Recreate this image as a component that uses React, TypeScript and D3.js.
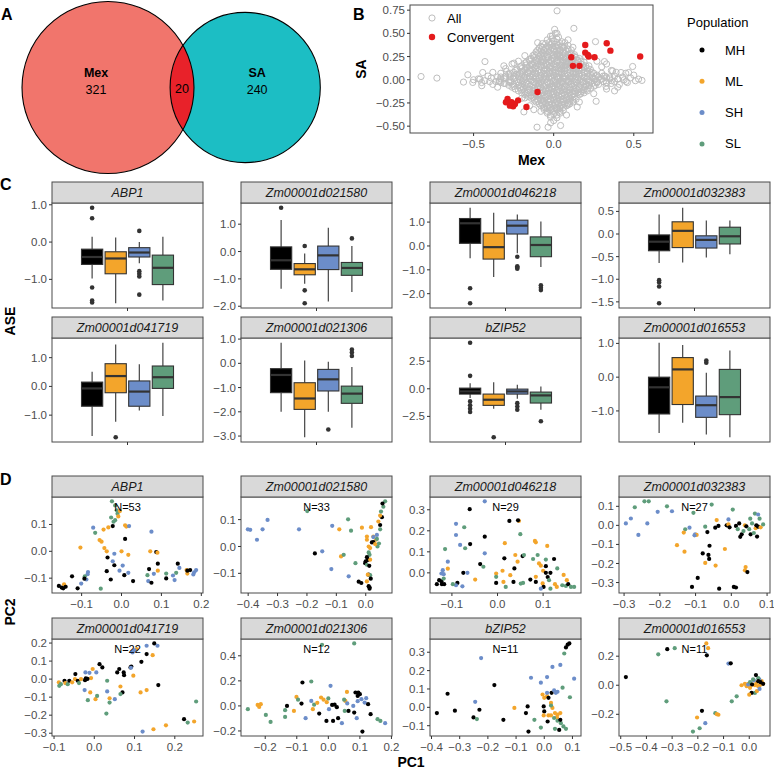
import React from 'react';
import * as d3 from 'd3';

const FONT = "'Liberation Sans', Arial, Helvetica, sans-serif";

// ---------- Panel A: Venn ----------
const vennNames = ['Mex', 'SA'];
const vennOnly = [321, 240];
const vennShared = 20;
const vennColors = ['#F1756C', '#1CBEC4'];
const vennSharedColor = '#E8222A';

// ---------- Panel B: Mex vs SA ----------
const convergentPoints: [number, number][] = [
  [0.197, 0.375], [0.11, 0.243], [0.12, 0.15], [0.161, 0.15], [0.197, 0.293],
  [0.213, 0.268], [0.219, 0.25], [0.255, 0.243], [0.331, 0.393], [0.354, 0.314],
  [0.54, 0.25], [-0.101, -0.132], [-0.288, -0.207], [-0.298, -0.243], [-0.273, -0.279],
  [-0.253, -0.286], [-0.242, -0.261], [-0.222, -0.222], [-0.17, -0.293], [-0.263, -0.243],
];
// flat list of (Mex, SA) pairs for all genes
const allPoints: number[] = [
  0.01, 0.5, -0.02, 0.47, 0.03, 0.46, -0.04, 0.43, 0.0, 0.42, 0.05, 0.41, -0.07, 0.39, -0.02, 0.38, 0.03, 0.37, 0.07, 0.36,
  -0.09, 0.34, -0.05, 0.34, 0.0, 0.33, 0.04, 0.32, 0.09, 0.33, -0.11, 0.3, -0.07, 0.29, -0.03, 0.3, 0.02, 0.28, 0.06, 0.29,
  0.11, 0.28, -0.13, 0.26, -0.09, 0.25, -0.04, 0.25, 0.0, 0.24, 0.04, 0.25, 0.08, 0.24, 0.13, 0.25, -0.15, 0.22, -0.11, 0.21,
  -0.07, 0.22, -0.02, 0.21, 0.02, 0.2, 0.06, 0.21, 0.1, 0.2, 0.15, 0.21, -0.18, 0.18, -0.14, 0.17, -0.1, 0.17, -0.05, 0.18,
  0.0, 0.17, 0.04, 0.16, 0.08, 0.17, 0.12, 0.16, 0.17, 0.17, -0.21, 0.14, -0.17, 0.13, -0.12, 0.13, -0.08, 0.14, -0.03, 0.13,
  0.01, 0.13, 0.05, 0.12, 0.1, 0.13, 0.14, 0.12, 0.19, 0.13, -0.24, 0.1, -0.19, 0.09, -0.15, 0.1, -0.1, 0.09, -0.06, 0.1,
  -0.01, 0.09, 0.03, 0.09, 0.07, 0.1, 0.12, 0.09, 0.16, 0.1, 0.21, 0.09, -0.28, 0.06, -0.23, 0.06, -0.18, 0.05, -0.13, 0.06,
  -0.08, 0.05, -0.04, 0.06, 0.0, 0.05, 0.05, 0.06, 0.09, 0.05, 0.14, 0.06, 0.18, 0.05, 0.23, 0.06, 0.27, 0.05,
  -0.47, 0.01, -0.43, -0.01, -0.39, 0.02, -0.36, -0.02, -0.33, 0.01, -0.3, 0.02, -0.27, -0.01, -0.24, 0.02, -0.21, 0.0,
  -0.17, 0.02, -0.14, -0.01, -0.11, 0.01, -0.07, 0.0, -0.03, 0.02, 0.01, 0.0, 0.04, 0.02, 0.08, -0.01, 0.11, 0.01, 0.15, 0.0,
  0.19, 0.02, 0.22, -0.01, 0.26, 0.01, 0.29, 0.0, 0.33, 0.02, 0.36, -0.01, 0.4, 0.01, 0.44, 0.0, 0.48, 0.02, 0.51, -0.01,
  -0.41, 0.04, -0.35, 0.03, -0.31, -0.04, -0.45, -0.03, 0.38, 0.04, 0.43, 0.03, 0.46, -0.03, 0.33, -0.03, 0.31, 0.04,
  -0.38, -0.05, 0.41, -0.05,
  -0.3, -0.04, -0.25, -0.05, -0.2, -0.04, -0.16, -0.05, -0.11, -0.04, -0.07, -0.05, -0.02, -0.04, 0.02, -0.05, 0.06, -0.04,
  0.11, -0.05, 0.15, -0.04, 0.2, -0.05, 0.24, -0.04, 0.28, -0.05,
  -0.26, -0.08, -0.21, -0.09, -0.17, -0.08, -0.12, -0.09, -0.08, -0.08, -0.03, -0.09, 0.01, -0.08, 0.05, -0.09, 0.1, -0.08,
  0.14, -0.09, 0.19, -0.08, 0.23, -0.09,
  -0.22, -0.12, -0.18, -0.13, -0.13, -0.12, -0.09, -0.13, -0.05, -0.12, 0.0, -0.13, 0.04, -0.12, 0.08, -0.13, 0.13, -0.12,
  0.17, -0.13, 0.21, -0.12,
  -0.18, -0.16, -0.14, -0.17, -0.1, -0.16, -0.06, -0.17, -0.01, -0.16, 0.03, -0.17, 0.07, -0.16, 0.11, -0.17, 0.16, -0.16,
  -0.14, -0.2, -0.1, -0.21, -0.06, -0.2, -0.02, -0.21, 0.02, -0.2, 0.06, -0.21, 0.1, -0.2, 0.14, -0.21,
  -0.11, -0.24, -0.07, -0.25, -0.03, -0.24, 0.01, -0.25, 0.05, -0.24, 0.09, -0.25, 0.12, -0.24,
  -0.08, -0.28, -0.04, -0.29, 0.0, -0.28, 0.04, -0.29, 0.08, -0.28,
  -0.06, -0.32, -0.02, -0.33, 0.02, -0.32, 0.06, -0.33, -0.04, -0.36, 0.0, -0.37, 0.04, -0.36, -0.02, -0.4, 0.02, -0.41, 0.0, -0.44,
  -0.05, 0.03, 0.03, 0.03, -0.01, -0.02, 0.06, -0.02, -0.09, 0.02, 0.12, 0.03, -0.15, 0.03, 0.17, -0.02, -0.04, 0.15, 0.06, 0.14,
  -0.02, -0.14, 0.08, -0.11, -0.1, -0.1, 0.02, 0.27, -0.01, 0.35, 0.01, -0.3, -0.07, 0.19, 0.09, 0.19, -0.12, -0.14, 0.12, -0.15,
  // in-between rows of the dense core
  -0.01, 0.44, 0.02, 0.44, -0.03, 0.4, 0.02, 0.4, 0.07, 0.4,
  -0.08, 0.36, -0.04, 0.36, 0.01, 0.36, 0.05, 0.36, 0.09, 0.37,
  -0.1, 0.32, -0.06, 0.32, -0.02, 0.32, 0.02, 0.32, 0.06, 0.32, 0.11, 0.32,
  -0.12, 0.27, -0.08, 0.27, -0.04, 0.27, 0.0, 0.27, 0.04, 0.27, 0.09, 0.27, 0.13, 0.27,
  -0.14, 0.23, -0.1, 0.23, -0.05, 0.23, -0.01, 0.23, 0.04, 0.23, 0.08, 0.23, 0.12, 0.23, 0.16, 0.23,
  -0.17, 0.19, -0.12, 0.19, -0.08, 0.19, -0.03, 0.19, 0.02, 0.19, 0.06, 0.19, 0.11, 0.19, 0.15, 0.19, 0.19, 0.19,
  -0.2, 0.15, -0.15, 0.15, -0.11, 0.15, -0.06, 0.15, -0.02, 0.15, 0.02, 0.15, 0.07, 0.15, 0.11, 0.15, 0.15, 0.15, 0.2, 0.15,
  -0.23, 0.11, -0.18, 0.11, -0.13, 0.11, -0.09, 0.11, -0.04, 0.11, 0.01, 0.11, 0.05, 0.11, 0.1, 0.11, 0.14, 0.11, 0.18, 0.11, 0.23, 0.11,
  -0.27, 0.07, -0.21, 0.07, -0.16, 0.07, -0.11, 0.07, -0.06, 0.07, -0.02, 0.07, 0.03, 0.07, 0.07, 0.07, 0.12, 0.07, 0.16, 0.07,
  0.21, 0.07, 0.25, 0.07, 0.3, 0.07,
  -0.33, 0.03, -0.27, 0.03, -0.22, 0.03, -0.18, 0.03, -0.13, 0.03, -0.08, 0.03, -0.03, 0.03, 0.02, 0.03, 0.06, 0.03, 0.1, 0.03,
  0.14, 0.03, 0.19, 0.03, 0.24, 0.03, 0.28, 0.03, 0.35, 0.03,
  -0.4, -0.02, -0.34, -0.02, -0.28, -0.02, -0.23, -0.02, -0.19, -0.02, -0.13, -0.02, -0.09, -0.02, -0.04, -0.02, 0.0, -0.02,
  0.04, -0.02, 0.09, -0.02, 0.13, -0.02, 0.18, -0.02, 0.23, -0.02, 0.27, -0.02, 0.31, -0.02, 0.38, -0.02,
  -0.28, -0.06, -0.22, -0.06, -0.18, -0.06, -0.13, -0.06, -0.09, -0.06, -0.05, -0.06, 0.0, -0.06, 0.04, -0.06, 0.08, -0.06,
  0.13, -0.06, 0.17, -0.06, 0.22, -0.06, 0.26, -0.06,
  -0.24, -0.1, -0.19, -0.1, -0.15, -0.1, -0.1, -0.1, -0.05, -0.1, -0.01, -0.1, 0.03, -0.1, 0.07, -0.1, 0.12, -0.1, 0.16, -0.1, 0.21, -0.1,
  -0.2, -0.14, -0.16, -0.14, -0.11, -0.14, -0.07, -0.14, -0.03, -0.14, 0.02, -0.14, 0.06, -0.14, 0.1, -0.14, 0.15, -0.14, 0.19, -0.14,
  -0.16, -0.18, -0.12, -0.18, -0.08, -0.18, -0.04, -0.18, 0.01, -0.18, 0.05, -0.18, 0.09, -0.18, 0.13, -0.18,
  -0.12, -0.22, -0.08, -0.22, -0.04, -0.22, 0.0, -0.22, 0.04, -0.22, 0.08, -0.22, 0.12, -0.22,
  -0.09, -0.26, -0.05, -0.26, -0.01, -0.26, 0.03, -0.26, 0.07, -0.26, 0.1, -0.26,
  -0.06, -0.3, -0.02, -0.3, 0.02, -0.3, 0.06, -0.3, -0.04, -0.34, 0.0, -0.34, 0.04, -0.34, -0.02, -0.38, 0.02, -0.38,
  // third layer, filling the densest part
  -0.05, 0.39, -0.01, 0.39, 0.04, 0.39,
  -0.07, 0.35, -0.03, 0.35, 0.02, 0.35, 0.06, 0.35,
  -0.08, 0.31, -0.04, 0.31, 0.0, 0.31, 0.04, 0.31, 0.08, 0.31,
  -0.1, 0.28, -0.06, 0.28, -0.02, 0.28, 0.03, 0.28, 0.07, 0.28, 0.1, 0.28,
  -0.12, 0.24, -0.07, 0.24, -0.03, 0.24, 0.02, 0.24, 0.06, 0.24, 0.1, 0.24, 0.14, 0.24,
  -0.15, 0.2, -0.1, 0.2, -0.06, 0.2, -0.01, 0.2, 0.04, 0.2, 0.08, 0.2, 0.12, 0.2, 0.17, 0.2,
  -0.17, 0.16, -0.13, 0.16, -0.08, 0.16, -0.04, 0.16, 0.01, 0.16, 0.05, 0.16, 0.1, 0.16, 0.14, 0.16, 0.18, 0.16,
  -0.2, 0.12, -0.15, 0.12, -0.11, 0.12, -0.06, 0.12, -0.02, 0.12, 0.03, 0.12, 0.07, 0.12, 0.12, 0.12, 0.16, 0.12, 0.21, 0.12,
  -0.25, 0.08, -0.2, 0.08, -0.16, 0.08, -0.12, 0.08, -0.08, 0.08, -0.03, 0.08, 0.01, 0.08, 0.05, 0.08, 0.1, 0.08, 0.14, 0.08,
  0.19, 0.08, 0.24, 0.08,
  -0.3, 0.04, -0.25, 0.04, -0.2, 0.04, -0.15, 0.04, -0.11, 0.04, -0.06, 0.04, -0.02, 0.04, 0.02, 0.04, 0.07, 0.04, 0.11, 0.04,
  0.16, 0.04, 0.21, 0.04, 0.26, 0.04, 0.32, 0.04,
  -0.31, 0.01, -0.25, 0.01, -0.19, 0.01, -0.15, 0.01, -0.09, 0.01, -0.05, 0.01, -0.01, 0.01, 0.03, 0.01, 0.06, 0.01, 0.1, 0.01,
  0.13, 0.01, 0.17, 0.01, 0.21, 0.01, 0.25, 0.01, 0.3, 0.01, 0.35, 0.01,
  -0.33, -0.03, -0.27, -0.03, -0.22, -0.03, -0.17, -0.03, -0.12, -0.03, -0.08, -0.03, -0.04, -0.03, 0.01, -0.03, 0.05, -0.03,
  0.09, -0.03, 0.14, -0.03, 0.18, -0.03, 0.22, -0.03, 0.27, -0.03, 0.33, -0.03,
  -0.25, -0.07, -0.2, -0.07, -0.15, -0.07, -0.1, -0.07, -0.06, -0.07, -0.01, -0.07, 0.03, -0.07, 0.07, -0.07, 0.12, -0.07,
  0.16, -0.07, 0.2, -0.07, 0.25, -0.07,
  -0.2, -0.11, -0.16, -0.11, -0.12, -0.11, -0.07, -0.11, -0.03, -0.11, 0.02, -0.11, 0.06, -0.11, 0.1, -0.11, 0.15, -0.11, 0.19, -0.11,
  -0.17, -0.15, -0.12, -0.15, -0.08, -0.15, -0.04, -0.15, 0.0, -0.15, 0.05, -0.15, 0.09, -0.15, 0.13, -0.15, 0.17, -0.15,
  -0.13, -0.19, -0.09, -0.19, -0.05, -0.19, 0.0, -0.19, 0.04, -0.19, 0.08, -0.19, 0.12, -0.19,
  -0.1, -0.23, -0.06, -0.23, -0.02, -0.23, 0.02, -0.23, 0.06, -0.23, 0.1, -0.23,
  -0.07, -0.27, -0.03, -0.27, 0.01, -0.27, 0.05, -0.27, 0.09, -0.27, -0.04, -0.31, 0.0, -0.31, 0.04, -0.31,
  // scattered points around the core
  -0.38, 0.08, -0.35, -0.08, 0.36, 0.1, 0.4, -0.08, 0.3, 0.14, -0.3, 0.12, 0.25, -0.15, -0.22, 0.2, 0.2, 0.25, -0.15, -0.28,
  0.12, 0.35, -0.1, 0.4, 0.08, -0.38, -0.2, -0.2, 0.27, 0.2, -0.26, 0.17, 0.33, -0.1, -0.33, 0.07, 0.16, -0.24, -0.18, 0.26,
  0.09, 0.43, -0.08, -0.34, 0.22, 0.15, -0.34, -0.01, 0.5, 0.05, -0.5, 0.0, 0.45, 0.07, 0.38, -0.12,
  // outer / isolated points
  -0.828, 0.035, -0.729, 0.018, -0.563, -0.025, -0.536, 0.054, -0.505, -0.029, -0.46, 0.007, -0.449, -0.064, -0.429, 0.196,
  -0.443, 0.078, -0.311, 0.15, -0.294, 0.089, -0.248, 0.179, -0.18, -0.196, -0.186, -0.346, -0.104, -0.511, -0.035, -0.511,
  -0.019, -0.464, 0.043, -0.493, 0.021, 0.743, 0.006, 0.543, -0.008, 0.472, 0.02, 0.5, 0.126, 0.554, 0.147, -0.293,
  0.261, 0.411, 0.317, 0.196, 0.33, 0.17, 0.368, 0.096, 0.39, 0.08, 0.42, 0.078, 0.468, 0.078, 0.493, 0.143, 0.53, 0.007,
  0.551, -0.007, 0.452, -0.018, 0.4, 0.007, 0.36, -0.04, 0.327, -0.071, 0.265, -0.232, -0.066, -0.232, -0.124, -0.322,
];

// ---------- Panel C: ASE boxplots ----------
const genes = ['ABP1', 'Zm00001d021580', 'Zm00001d046218', 'Zm00001d032383',
  'Zm00001d041719', 'Zm00001d021306', 'bZIP52', 'Zm00001d016553'];
const populations = ['MH', 'ML', 'SH', 'SL'];
const popColors = ['#000000', '#F3A52B', '#6C8DC9', '#5F9D7B'];

// [gene][population] = [lower whisker, q1, median, q3, upper whisker]
const boxStats: number[][][] = [
  [[-0.98, -0.6, -0.4, -0.19, 0.14], [-1.64, -0.85, -0.44, -0.26, 0.12], [-0.57, -0.4, -0.28, -0.15, 0.0], [-1.57, -1.14, -0.69, -0.35, 0.14]],
  [[-1.36, -0.65, -0.32, 0.17, 1.15], [-1.18, -0.85, -0.65, -0.44, -0.07], [-1.83, -0.66, -0.14, 0.2, 0.87], [-1.48, -0.87, -0.6, -0.4, 0.2]],
  [[-0.52, 0.11, 0.95, 1.15, 1.6], [-1.3, -0.55, -0.05, 0.54, 1.39], [-0.31, 0.5, 0.85, 1.08, 1.32], [-0.88, -0.45, 0.04, 0.38, 1.03]],
  [[-0.64, -0.37, -0.17, -0.02, 0.43], [-0.63, -0.3, 0.07, 0.27, 0.58], [-0.52, -0.31, -0.13, -0.04, 0.3], [-0.45, -0.22, -0.05, 0.15, 0.3]],
  [[-1.73, -0.69, -0.07, 0.15, 0.51], [-1.23, -0.22, 0.36, 0.79, 1.46], [-0.84, -0.69, -0.18, 0.19, 0.77], [-1.03, -0.07, 0.32, 0.71, 1.52]],
  [[-2.0, -1.21, -0.48, -0.22, 0.85], [-3.05, -1.9, -1.45, -0.8, 0.12], [-2.0, -1.14, -0.66, -0.25, 0.07], [-2.66, -1.65, -1.25, -0.94, -0.15]],
  [[-0.84, -0.48, -0.24, 0.06, 0.51], [-1.8, -1.5, -0.99, -0.48, 0.6], [-0.9, -0.48, -0.24, -0.03, 0.36], [-1.89, -1.29, -0.6, -0.3, 0.21]],
  [[-1.65, -1.09, -0.3, 0.0, 1.02], [-1.35, -0.81, 0.23, 0.58, 0.95], [-1.7, -1.19, -0.83, -0.56, 0.13], [-1.78, -1.11, -0.59, 0.23, 0.79]],
];
const boxOutliers: number[][][] = [
  [[0.92, 0.64, -1.22, -1.57, -1.62], [], [0.3, -0.78, -0.85, -0.92, -1.41], []],
  [[1.6], [0.2, -1.42, -1.89], [], [0.48]],
  [[-1.77, -2.4], [], [-0.45, -0.85, -0.9, -0.95], [-1.65, -1.75, -1.85]],
  [[-1.02, -1.07, -1.16, -1.53], [], [], []],
  [[], [-1.77], [], []],
  [[], [], [-2.73], [0.57, 0.45, 0.3]],
  [[4.17, 1.17, -1.14, -1.5, -1.8, -2.1], [-4.39], [-1.3, -1.6, -1.9], [-2.94]],
  [[], [], [0.49, 0.43], []],
];
const aseTicks = [[-1, 0, 1], [-2, -1, 0, 1], [-2, -1, 0, 1], [-1.5, -1, -0.5, 0, 0.5],
  [-1, 0, 1], [-3, -2, -1, 0, 1], [-2.5, 0, 2.5], [-1, 0, 1]];

// ---------- Panel D: PCA ----------
const pcaN = [53, 33, 29, 27, 22, 12, 11, 11];
// [PC1, PC2, population index]
const pcaABP1 = [
  [-0.024, 0.186, 3], [-0.016, 0.171, 3], [-0.012, 0.153, 3], [-0.01, 0.14, 3], [-0.026, 0.126, 3], [-0.016, 0.116, 3], [-0.02, 0.11, 3],
  [-0.008, 0.13, 1], [-0.004, 0.15, 1], [-0.022, 0.094, 0], [0.009, 0.097, 1], [0.012, 0.092, 1], [0.019, 0.094, 2], [-0.033, 0.089, 1],
  [-0.045, 0.081, 1], [-0.071, 0.088, 2], [-0.066, 0.069, 3], [-0.055, 0.042, 1], [-0.05, 0.036, 1], [-0.103, 0.014, 1], [-0.043, 0.012, 1],
  [0.009, 0.046, 0], [0.075, 0.073, 2], [0.0, 0.0, 1], [0.017, -0.013, 1], [-0.037, 0.0, 1], [-0.018, -0.009, 2], [0.072, 0.0, 1],
  [0.087, -0.003, 0], [0.09, -0.005, 1], [-0.035, -0.023, 0], [-0.022, -0.037, 2], [-0.018, -0.052, 0], [0.003, -0.053, 2],
  [-0.037, -0.074, 0], [-0.027, -0.105, 0], [-0.005, -0.072, 2], [0.017, -0.08, 2], [0.007, -0.089, 0], [0.029, -0.111, 0],
  [-0.084, -0.077, 2], [-0.085, -0.085, 2], [-0.092, -0.093, 3], [-0.088, -0.105, 2], [-0.124, -0.093, 0], [-0.101, -0.12, 2],
  [-0.093, -0.102, 0], [-0.11, -0.138, 0], [-0.052, -0.139, 3], [-0.144, -0.123, 1], [-0.157, -0.129, 0], [-0.15, -0.135, 0],
  [-0.146, -0.138, 0], [-0.14, -0.132, 0], [0.069, -0.066, 0], [0.065, -0.089, 3], [0.067, -0.111, 2], [0.075, -0.117, 0],
  [0.081, -0.084, 2], [0.091, -0.072, 1], [0.091, -0.046, 0], [0.112, -0.083, 3], [0.112, -0.101, 0], [0.129, -0.09, 2],
  [0.133, -0.107, 2], [0.137, -0.08, 3], [0.141, -0.046, 0], [0.145, -0.062, 2], [0.163, -0.07, 1], [0.165, -0.083, 1],
  [0.182, -0.078, 2], [0.187, -0.07, 2], [0.18, -0.086, 2], [0.165, -0.072, 0], [0.172, -0.07, 0],
];
const pca021580 = [
  [-0.401, 0.064, 2], [-0.393, 0.062, 2], [-0.37, 0.025, 2], [-0.351, 0.064, 2], [-0.334, 0.099, 2], [-0.227, 0.064, 2],
  [-0.199, 0.132, 3], [-0.114, 0.077, 2], [-0.09, 0.064, 1], [-0.06, 0.101, 3], [-0.05, 0.059, 3], [-0.013, 0.07, 1],
  [0.018, 0.072, 1], [-0.173, -0.026, 0], [-0.148, -0.018, 2], [-0.084, -0.037, 1], [-0.075, -0.031, 3], [-0.117, -0.084, 2],
  [-0.035, -0.062, 3], [-0.058, -0.111, 2], [0.004, 0.025, 1], [0.01, 0.0, 1], [0.021, 0.015, 0], [0.026, 0.037, 1],
  [0.038, 0.043, 2], [0.049, 0.064, 3], [0.049, 0.08, 0], [0.055, 0.109, 0], [0.049, 0.115, 1], [0.06, 0.148, 3],
  [0.066, 0.168, 3], [0.057, 0.16, 0], [0.052, 0.13, 3], [0.043, 0.093, 1], [0.035, 0.025, 1], [0.04, 0.0, 3],
  [0.013, -0.031, 3], [0.015, -0.006, 1], [-0.002, -0.062, 0], [0.007, -0.05, 0], [0.004, -0.068, 3], [0.012, -0.072, 0],
  [0.01, -0.105, 0], [0.015, -0.107, 3], [0.017, -0.12, 0], [0.013, -0.152, 0], [-0.024, -0.131, 0], [-0.015, -0.136, 0],
  [0.004, -0.13, 1], [0.01, -0.148, 0], [0.013, -0.157, 0], [0.007, -0.105, 1], [0.015, -0.049, 1], [0.01, -0.022, 3],
  [0.004, -0.04, 0], [0.0, -0.055, 0], [0.026, 0.016, 0], [0.038, 0.028, 3], [0.032, 0.009, 1], [0.045, 0.011, 3],
  [0.026, 0.035, 2], [0.004, 0.037, 1],
];
const pca046218 = [
  [-0.028, 0.34, 2], [-0.061, 0.303, 0], [-0.091, 0.233, 2], [-0.073, 0.217, 3], [-0.091, 0.18, 2], [-0.028, 0.172, 0],
  [-0.082, 0.133, 2], [-0.06, 0.137, 0], [-0.071, 0.117, 3], [-0.115, 0.113, 3], [-0.028, 0.093, 2], [-0.109, 0.053, 2],
  [-0.109, 0.02, 1], [-0.12, 0.013, 2], [-0.123, -0.003, 2], [-0.038, 0.042, 0], [-0.031, 0.029, 3], [-0.075, 0.0, 0],
  [-0.066, 0.0, 2], [-0.049, -0.032, 1], [-0.088, -0.048, 0], [-0.077, -0.064, 2], [-0.091, -0.059, 2], [-0.098, -0.054, 3],
  [-0.133, -0.054, 0], [-0.128, -0.035, 0], [-0.122, -0.054, 0], [-0.117, -0.054, 0], [-0.123, -0.04, 0], [-0.118, -0.027, 3],
  [-0.118, -0.006, 2], [0.026, 0.247, 0], [0.047, 0.247, 1], [0.045, 0.25, 0], [0.05, 0.184, 3], [0.016, 0.141, 1],
  [0.082, 0.152, 1], [0.084, 0.145, 1], [0.109, 0.128, 1], [0.015, 0.069, 0], [0.039, 0.085, 1], [0.055, 0.08, 0],
  [0.058, 0.085, 3], [0.044, 0.053, 1], [0.078, 0.066, 3], [0.088, 0.085, 3], [0.091, 0.045, 1], [0.095, 0.034, 1],
  [0.124, 0.066, 0], [0.106, 0.032, 0], [0.106, 0.063, 3], [0.1, 0.01, 1], [0.131, 0.021, 3], [0.037, 0.021, 0],
  [-0.003, -0.003, 1], [-0.003, -0.019, 3], [0.011, 0.01, 1], [0.028, -0.011, 1], [-0.003, -0.048, 0], [0.013, -0.043, 1],
  [0.018, -0.067, 3], [0.035, -0.043, 0], [0.051, -0.051, 3], [0.056, -0.048, 3], [0.072, -0.032, 0], [0.084, -0.019, 1],
  [0.084, -0.043, 0], [0.106, 0.0, 0], [0.11, -0.02, 0], [0.099, -0.05, 1], [0.101, -0.067, 0], [0.116, 0.0, 0],
  [0.113, -0.035, 3], [0.126, -0.054, 1], [0.13, -0.067, 1], [0.142, -0.059, 3], [0.145, -0.01, 1], [0.152, -0.035, 1],
  [0.15, -0.062, 3], [0.155, -0.054, 0], [0.161, -0.067, 3], [0.168, -0.067, 3], [0.095, -0.075, 2], [0.116, -0.075, 3],
];
const pca032383 = [
  [-0.295, 0.01, 2], [-0.281, 0.036, 2], [-0.27, 0.095, 3], [-0.26, -0.05, 2], [-0.235, 0.01, 2], [-0.243, 0.126, 3],
  [-0.231, 0.126, 3], [-0.206, 0.071, 2], [-0.18, 0.1, 3], [-0.166, 0.074, 2], [-0.106, 0.066, 3], [-0.055, 0.109, 3],
  [0.004, 0.083, 3], [-0.008, 0.031, 2], [-0.041, 0.028, 1], [-0.045, -0.012, 0], [-0.073, -0.007, 3], [-0.129, -0.021, 3],
  [-0.133, -0.038, 1], [-0.117, -0.012, 2], [-0.101, -0.047, 2], [-0.097, -0.05, 1], [-0.103, -0.052, 2], [-0.067, -0.035, 0],
  [-0.152, -0.104, 1], [-0.131, -0.138, 1], [-0.061, -0.107, 0], [-0.08, -0.147, 0], [-0.064, -0.155, 0], [-0.062, -0.176, 0],
  [-0.073, -0.197, 1], [-0.044, -0.211, 1], [-0.094, -0.276, 0], [-0.018, -0.124, 1], [0.04, -0.219, 1], [0.038, -0.236, 1],
  [0.045, -0.245, 0], [-0.036, -0.003, 0], [-0.013, 0.0, 0], [-0.008, 0.005, 1], [-0.005, -0.01, 0], [0.013, -0.003, 0],
  [0.022, 0.01, 0], [0.018, -0.02, 3], [0.029, -0.047, 0], [0.025, -0.06, 0], [0.034, -0.03, 3], [0.038, 0.0, 1],
  [0.042, -0.005, 0], [0.053, 0.035, 3], [0.058, 0.01, 3], [0.066, 0.062, 3], [0.05, -0.02, 3], [0.054, -0.047, 0],
  [0.072, -0.059, 0], [0.063, -0.04, 3], [0.068, -0.015, 1], [0.07, 0.0, 0], [0.075, -0.007, 0], [0.075, 0.057, 2],
  [0.079, 0.035, 3], [0.082, -0.01, 1], [0.089, 0.005, 3], [-0.11, -0.323, 0], [-0.034, -0.332, 0], [0.007, -0.323, 0],
  [0.013, -0.326, 0],
];
const pca041719 = [
  [-0.088, -0.018, 1], [-0.087, -0.037, 3], [-0.083, -0.028, 3], [-0.074, -0.009, 0], [-0.072, -0.022, 1], [-0.066, -0.028, 3],
  [-0.062, -0.009, 0], [-0.055, -0.018, 1], [-0.047, 0.028, 0], [-0.048, 0.0, 1], [-0.041, -0.009, 0], [-0.038, -0.022, 3],
  [-0.033, 0.0, 1], [-0.023, -0.006, 0], [-0.021, 0.004, 0], [-0.008, 0.006, 1], [-0.017, 0.001, 0], [-0.022, 0.037, 2],
  [-0.012, 0.035, 2], [-0.004, 0.056, 1], [0.005, 0.037, 2], [0.013, 0.083, 0], [0.02, 0.065, 0], [0.057, 0.037, 0],
  [0.062, 0.056, 0], [0.073, 0.037, 0], [0.074, 0.022, 0], [0.09, 0.065, 0], [0.092, 0.07, 0], [0.091, 0.063, 2],
  [0.097, 0.019, 1], [0.117, 0.096, 0], [0.13, 0.139, 0], [0.095, 0.148, 2], [0.105, 0.167, 1], [0.1, 0.16, 2],
  [0.145, 0.133, 1], [0.13, 0.185, 2], [0.149, 0.198, 0], [0.157, 0.185, 2], [0.159, -0.033, 0], [0.13, -0.061, 1],
  [0.115, -0.074, 1], [0.065, -0.041, 1], [0.07, -0.074, 0], [0.065, -0.083, 3], [0.032, -0.009, 3], [0.032, -0.068, 2],
  [0.038, -0.106, 1], [0.038, -0.13, 3], [0.051, -0.111, 2], [-0.024, -0.061, 2], [-0.016, -0.117, 3], [-0.01, -0.074, 1],
  [0.003, -0.111, 1], [0.007, -0.093, 3], [0.03, -0.191, 3], [0.12, -0.291, 2], [0.147, -0.278, 1], [0.178, -0.256, 1],
  [0.223, -0.222, 0], [0.232, -0.241, 3], [0.248, -0.235, 1], [0.253, -0.124, 3],
];
const pca021306 = [
  [-0.255, -0.026, 3], [-0.224, 0.008, 1], [-0.219, -0.008, 1], [-0.214, 0.014, 1], [-0.198, -0.072, 3], [-0.183, -0.128, 3],
  [-0.137, -0.034, 3], [-0.137, -0.088, 3], [-0.109, -0.04, 1], [-0.131, 0.0, 0], [-0.101, 0.072, 1], [-0.096, 0.05, 3],
  [-0.085, 0.019, 0], [-0.082, 0.187, 0], [-0.054, 0.195, 3], [-0.072, -0.098, 2], [-0.054, 0.04, 2], [-0.045, 0.01, 3],
  [-0.049, -0.026, 1], [-0.029, -0.061, 0], [-0.023, 0.067, 1], [-0.015, 0.05, 1], [-0.005, 0.03, 1], [-0.035, 0.025, 1],
  [-0.02, 0.488, 3], [-0.006, -0.12, 0], [0.0, 0.06, 3], [0.012, 0.008, 0], [0.015, -0.12, 0], [0.007, 0.16, 2],
  [0.002, -0.026, 2], [0.02, 0.01, 0], [0.027, -0.01, 0], [0.031, -0.098, 0], [0.043, -0.138, 2], [0.054, 0.04, 1],
  [0.05, 0.05, 3], [0.052, -0.04, 3], [0.064, -0.04, 0], [0.06, 0.02, 2], [0.082, -0.053, 0], [0.079, 0.0, 2],
  [0.093, 0.038, 2], [0.082, 0.499, 3], [0.086, 0.107, 0], [0.095, 0.107, 0], [0.093, 0.08, 0], [0.1, 0.094, 0],
  [0.059, 0.112, 1], [0.105, 0.054, 2], [0.115, 0.027, 2], [0.12, 0.062, 2], [0.126, 0.014, 0], [0.134, -0.066, 0],
  [0.108, -0.205, 0], [0.09, -0.098, 2], [0.156, -0.106, 3], [0.165, -0.12, 3], [0.18, -0.138, 2],
];
const pcaBZIP52 = [
  [-0.381, -0.031, 0], [-0.343, 0.074, 0], [-0.317, -0.018, 0], [-0.224, 0.268, 2], [-0.245, 0.03, 2], [-0.251, -0.055, 0],
  [-0.239, -0.064, 3], [-0.23, -0.013, 0], [-0.177, 0.121, 0], [-0.145, -0.068, 0], [-0.106, -0.003, 1], [-0.065, -0.031, 0],
  [-0.059, 0.005, 0], [-0.056, -0.132, 0], [-0.047, 0.161, 2], [-0.035, -0.068, 3], [-0.012, 0.134, 2], [-0.012, -0.11, 3],
  [0.01, 0.165, 2], [-0.002, 0.005, 0], [-0.006, 0.07, 1], [0.0, 0.052, 1], [0.01, 0.061, 1], [0.01, 0.079, 2],
  [0.0, -0.022, 0], [-0.002, -0.044, 1], [0.015, -0.044, 1], [0.024, -0.044, 1], [0.015, 0.052, 0], [0.012, -0.077, 0],
  [0.024, 0.024, 1], [0.029, -0.003, 1], [0.024, 0.01, 3], [0.026, 0.079, 0], [0.029, 0.22, 2], [0.035, 0.092, 2],
  [0.041, 0.079, 2], [0.047, 0.085, 2], [0.038, -0.031, 1], [0.047, -0.04, 1], [0.057, -0.031, 1], [0.045, -0.055, 1],
  [0.035, -0.058, 3], [0.047, -0.073, 3], [0.059, -0.086, 3], [0.068, -0.104, 3], [0.077, -0.117, 3], [0.038, -0.117, 3],
  [0.053, -0.123, 0], [0.057, -0.068, 0], [0.057, 0.231, 2], [0.091, 0.055, 3], [0.106, 0.156, 2], [0.071, 0.293, 3],
  [0.077, 0.326, 0], [0.083, 0.341, 0], [0.089, 0.348, 0], [0.065, 0.107, 3],
];
const pca016553 = [
  [-0.48, 0.056, 0], [-0.354, 0.213, 3], [-0.319, 0.248, 0], [-0.29, 0.255, 3], [-0.167, 0.288, 1], [-0.16, 0.255, 1],
  [-0.165, 0.206, 0], [-0.322, -0.111, 3], [-0.184, -0.176, 0], [-0.132, -0.192, 3], [-0.126, -0.199, 1], [-0.12, -0.203, 1],
  [-0.203, -0.222, 1], [-0.171, -0.261, 2], [-0.193, -0.296, 3], [-0.219, -0.319, 3], [-0.068, -0.111, 3], [-0.049, -0.076, 3],
  [-0.081, 0.149, 2], [-0.072, 0.151, 0], [-0.03, 0.0, 1], [-0.017, 0.01, 1], [-0.01, -0.007, 1], [-0.004, 0.01, 1],
  [0.003, -0.018, 1], [0.013, 0.005, 1], [0.022, 0.0, 1], [0.028, 0.016, 1], [0.035, -0.007, 1], [0.041, 0.0, 1],
  [0.048, 0.028, 1], [0.054, 0.01, 1], [-0.004, 0.005, 2], [0.018, 0.033, 2], [0.039, 0.04, 2], [0.003, 0.021, 3],
  [0.022, -0.053, 3], [0.035, 0.049, 3], [0.009, -0.053, 0], [0.011, 0.005, 0], [0.026, 0.07, 0], [0.035, 0.028, 0],
  [0.044, 0.021, 0], [0.054, 0.01, 0], [0.0, -0.065, 1], [0.03, -0.04, 1], [0.04, -0.025, 2], [0.015, 0.04, 3],
];
const pcaPoints = [pcaABP1, pca021580, pca046218, pca032383, pca041719, pca021306, pcaBZIP52, pca016553];
const pcaXTicks = [[-0.1, 0, 0.1, 0.2], [-0.4, -0.3, -0.2, -0.1, 0], [-0.1, 0, 0.1], [-0.3, -0.2, -0.1, 0, 0.1],
  [-0.1, 0, 0.1, 0.2], [-0.2, -0.1, 0, 0.1, 0.2], [-0.4, -0.3, -0.2, -0.1, 0, 0.1], [-0.5, -0.4, -0.3, -0.2, -0.1, 0]];
const pcaYTicks = [[-0.1, 0, 0.1], [-0.1, 0, 0.1], [-0.1, 0, 0.1, 0.2, 0.3], [-0.3, -0.2, -0.1, 0, 0.1],
  [-0.3, -0.2, -0.1, 0, 0.1, 0.2], [-0.2, 0, 0.2, 0.4], [-0.1, 0, 0.1, 0.2, 0.3], [-0.2, 0, 0.2]];

// ---------- helpers ----------
const fmt1 = (v: number) => d3.format('.1f')(v).replace('-', '\u2212');
const fmt2 = (v: number) => d3.format('.2f')(v).replace('-', '\u2212');
function expand(ext: [number, number], f = 0.05): [number, number] {
  const r = ext[1] - ext[0];
  return [ext[0] - r * f, ext[1] + r * f];
}
const inDomain = (v: number, dom: number[]) => v >= Math.min(dom[0], dom[1]) - 1e-9 && v <= Math.max(dom[0], dom[1]) + 1e-9;

const TICK_COL = '#333333';
const LAB_COL = '#4D4D4D';
const BORDER = '#4a4a4a';
const PW = 151;
const colLeft = (i: number) => 52 + i * 189;
const STRIP_H = 21;

function Strip({ x, y, label }: { x: number; y: number; label: string }) {
  return (
    <g>
      <rect x={x} y={y} width={PW} height={STRIP_H} fill="#D9D9D9" stroke={BORDER} strokeWidth={1} />
      <text x={x + PW / 2} y={y + STRIP_H / 2} dy="0.36em" textAnchor="middle" fontStyle="italic"
        fontSize={12.5} fill="#1A1A1A">{label}</text>
    </g>
  );
}

function YAxis({ y, ticks, left, fmt }: any) {
  return (
    <g>
      {ticks.filter((t: number) => inDomain(t, y.domain())).map((t: number) => (
        <g key={t}>
          <line x1={left - 3} x2={left} y1={y(t)} y2={y(t)} stroke={TICK_COL} strokeWidth={1} />
          <text x={left - 5} y={y(t)} dy="0.35em" textAnchor="end" fontSize={11.5} fill={LAB_COL}>{fmt(t)}</text>
        </g>
      ))}
    </g>
  );
}

function BoxPanel({ gi, left, stripTop, bottom }: any) {
  const top = stripTop + STRIP_H;
  const stats = boxStats[gi];
  const outs = boxOutliers[gi];
  const vals = ([] as number[]).concat(...stats, ...outs);
  const y = d3.scaleLinear().domain(expand(d3.extent(vals) as [number, number])).range([bottom, top]);
  const x = d3.scaleLinear().domain([0.4, 1.6]).range([left, left + PW]);
  const slot = 0.75 / populations.length;
  const bw = x(slot * 0.9) - x(0);
  return (
    <g>
      <rect x={left} y={top} width={PW} height={bottom - top} fill="#fff" />
      {stats.map((s, p) => {
        const cx = x(1 + (p - 1.5) * slot);
        const [lo, q1, med, q3, hi] = s;
        return (
          <g key={p}>
            <line x1={cx} x2={cx} y1={y(hi)} y2={y(q3)} stroke="#333" strokeWidth={1.1} />
            <line x1={cx} x2={cx} y1={y(q1)} y2={y(lo)} stroke="#333" strokeWidth={1.1} />
            <rect x={cx - bw / 2} y={y(q3)} width={bw} height={y(q1) - y(q3)} fill={popColors[p]}
              stroke="#333" strokeWidth={1.1} />
            <line x1={cx - bw / 2} x2={cx + bw / 2} y1={y(med)} y2={y(med)} stroke="#333" strokeWidth={2.2} />
            {outs[p].map((o, k) => <circle key={k} cx={cx} cy={y(o)} r={2.3} fill="#333" />)}
          </g>
        );
      })}
      <rect x={left} y={top} width={PW} height={bottom - top} fill="none" stroke={BORDER} strokeWidth={1} />
      <Strip x={left} y={stripTop} label={genes[gi]} />
      <YAxis y={y} ticks={aseTicks[gi]} left={left} fmt={fmt1} />
      <line x1={x(1)} x2={x(1)} y1={bottom} y2={bottom + 3} stroke={TICK_COL} />
    </g>
  );
}

function PcaPanel({ gi, left, stripTop, bottom }: any) {
  const top = stripTop + STRIP_H;
  const pts = pcaPoints[gi];
  const x = d3.scaleLinear().domain(expand(d3.extent(pts, (d) => d[0]) as [number, number])).range([left, left + PW]);
  const y = d3.scaleLinear().domain(expand(d3.extent(pts, (d) => d[1]) as [number, number])).range([bottom, top]);
  return (
    <g>
      <rect x={left} y={top} width={PW} height={bottom - top} fill="#fff" />
      {pts.map((d, k) => <circle key={k} cx={x(d[0])} cy={y(d[1])} r={2.1} fill={popColors[d[2]]} />)}
      <text x={left + PW / 2} y={top + 10} dy="0.35em" textAnchor="middle" fontSize={11} fill="#000">{'N=' + pcaN[gi]}</text>
      <rect x={left} y={top} width={PW} height={bottom - top} fill="none" stroke={BORDER} strokeWidth={1} />
      <Strip x={left} y={stripTop} label={genes[gi]} />
      <YAxis y={y} ticks={pcaYTicks[gi]} left={left} fmt={fmt1} />
      {pcaXTicks[gi].filter((t) => inDomain(t, x.domain())).map((t) => (
        <g key={t}>
          <line x1={x(t)} x2={x(t)} y1={bottom} y2={bottom + 3} stroke={TICK_COL} />
          <text x={x(t)} y={bottom + 14.5} textAnchor="middle" fontSize={11.5} fill={LAB_COL}>{fmt1(t)}</text>
        </g>
      ))}
    </g>
  );
}

function lensArea(r1: number, r2: number, d: number) {
  if (d >= r1 + r2) return 0;
  const a1 = r1 * r1 * Math.acos((d * d + r1 * r1 - r2 * r2) / (2 * d * r1));
  const a2 = r2 * r2 * Math.acos((d * d + r2 * r2 - r1 * r1) / (2 * d * r2));
  const k = 0.5 * Math.sqrt((-d + r1 + r2) * (d + r1 - r2) * (d - r1 + r2) * (d + r1 + r2));
  return a1 + a2 - k;
}

function Venn() {
  const totals = [vennOnly[0] + vennShared, vennOnly[1] + vennShared];
  const rScale = d3.scaleSqrt().domain([0, totals[0]]).range([0, 86]);
  const r1 = rScale(totals[0]);
  const r2 = rScale(totals[1]);
  const unit = Math.PI * r1 * r1 / totals[0];
  const target = unit * vennShared;
  let lo = Math.abs(r1 - r2) + 0.01, hi = r1 + r2;
  for (let i = 0; i < 60; i++) {
    const mid = (lo + hi) / 2;
    if (lensArea(r1, r2, mid) > target) lo = mid; else hi = mid;
  }
  const d = (lo + hi) / 2;
  const cy = 87.5;
  const cx1 = 22 + r1;
  const cx2 = cx1 + d;
  const leftC = ((cx1 - r1) + (cx2 - r2)) / 2;
  const rightC = ((cx1 + r1) + (cx2 + r2)) / 2;
  const midC = ((cx2 - r2) + (cx1 + r1)) / 2;
  return (
    <g>
      <defs>
        <clipPath id="clipLeft"><circle cx={cx1} cy={cy} r={r1} /></clipPath>
      </defs>
      <circle cx={cx1} cy={cy} r={r1} fill={vennColors[0]} />
      <circle cx={cx2} cy={cy} r={r2} fill={vennColors[1]} />
      <circle cx={cx2} cy={cy} r={r2} fill={vennSharedColor} clipPath="url(#clipLeft)" />
      <circle cx={cx1} cy={cy} r={r1} fill="none" stroke="#000" strokeWidth={1.1} />
      <circle cx={cx2} cy={cy} r={r2} fill="none" stroke="#000" strokeWidth={1.1} />
      <text x={leftC} y={77} textAnchor="middle" fontSize={12.5} fontWeight="bold">{vennNames[0]}</text>
      <text x={leftC} y={94} textAnchor="middle" fontSize={12.5}>{vennOnly[0]}</text>
      <text x={midC} y={93} textAnchor="middle" fontSize={12.5}>{vennShared}</text>
      <text x={rightC} y={77} textAnchor="middle" fontSize={12.5} fontWeight="bold">{vennNames[1]}</text>
      <text x={rightC} y={94} textAnchor="middle" fontSize={12.5}>{vennOnly[1]}</text>
    </g>
  );
}

function PanelB() {
  const L = 410, R = 653, T = 5, B = 133;
  const xs: number[] = [], ys: number[] = [];
  for (let i = 0; i < allPoints.length; i += 2) { xs.push(allPoints[i]); ys.push(allPoints[i + 1]); }
  const x = d3.scaleLinear().domain(expand(d3.extent(xs) as [number, number])).range([L, R]);
  const y = d3.scaleLinear().domain(expand(d3.extent(ys) as [number, number])).range([B, T]);
  return (
    <g>
      <rect x={L} y={T} width={R - L} height={B - T} fill="#fff" />
      {xs.map((v, i) => <circle key={i} cx={x(v)} cy={y(ys[i])} r={3.1} fill="none" stroke="#BEBEBE" strokeWidth={1} />)}
      {convergentPoints.map((p, i) => <circle key={'c' + i} cx={x(p[0])} cy={y(p[1])} r={3.2} fill="#E41A1C" />)}
      <rect x={L} y={T} width={R - L} height={B - T} fill="none" stroke={BORDER} strokeWidth={1} />
      <YAxis y={y} ticks={[-0.5, -0.25, 0, 0.25, 0.5, 0.75]} left={L} fmt={fmt2} />
      {[-0.5, 0, 0.5].map((t) => (
        <g key={t}>
          <line x1={x(t)} x2={x(t)} y1={B} y2={B + 3} stroke={TICK_COL} />
          <text x={x(t)} y={B + 14.5} textAnchor="middle" fontSize={11.5} fill={LAB_COL}>{fmt1(t)}</text>
        </g>
      ))}
      <text x={(L + R) / 2} y={165} textAnchor="middle" fontSize={14} fontWeight="bold">Mex</text>
      <text transform={`translate(366,${(T + B) / 2}) rotate(-90)`} textAnchor="middle" fontSize={14} fontWeight="bold">SA</text>
      <circle cx={432} cy={18} r={3.1} fill="none" stroke="#BEBEBE" strokeWidth={1} />
      <text x={447} y={18} dy="0.35em" fontSize={13}>All</text>
      <circle cx={432} cy={37} r={3.2} fill="#E41A1C" />
      <text x={447} y={37} dy="0.35em" fontSize={13}>Convergent</text>
      <text x={687} y={22} dy="0.35em" fontSize={13}>Population</text>
      {populations.map((p, i) => (
        <g key={p}>
          <circle cx={702} cy={50 + i * 31.3} r={2.5} fill={popColors[i]} />
          <text x={725} y={50 + i * 31.3} dy="0.35em" fontSize={13}>{p}</text>
        </g>
      ))}
    </g>
  );
}

export default function App() {
  const cStrip = [182, 317];
  const cBottom = [308, 442];
  const dStrip = [476, 618];
  const dBottom = [593, 736];
  return (
    <svg width={774} height={769} viewBox="0 0 774 769"
      style={{ position: 'absolute', left: 0, top: 0, background: '#fff' }} fontFamily={FONT}>
      <rect x={0} y={0} width={774} height={769} fill="#fff" />
      <Venn />
      <PanelB />
      {genes.map((g, gi) => (
        <BoxPanel key={'b' + g} gi={gi} left={colLeft(gi % 4)} stripTop={cStrip[Math.floor(gi / 4)]} bottom={cBottom[Math.floor(gi / 4)]} />
      ))}
      {genes.map((g, gi) => (
        <PcaPanel key={'p' + g} gi={gi} left={colLeft(gi % 4)} stripTop={dStrip[Math.floor(gi / 4)]} bottom={dBottom[Math.floor(gi / 4)]} />
      ))}
      <text transform="translate(15,321) rotate(-90)" textAnchor="middle" fontSize={14} fontWeight="bold">ASE</text>
      <text transform="translate(15,612) rotate(-90)" textAnchor="middle" fontSize={14} fontWeight="bold">PC2</text>
      <text x={411} y={767} textAnchor="middle" fontSize={14} fontWeight="bold">PC1</text>
      <text x={1} y={20} fontSize={16} fontWeight="bold">A</text>
      <text x={353} y={20} fontSize={16} fontWeight="bold">B</text>
      <text x={0} y={190} fontSize={16} fontWeight="bold">C</text>
      <text x={0} y={485} fontSize={16} fontWeight="bold">D</text>
    </svg>
  );
}
